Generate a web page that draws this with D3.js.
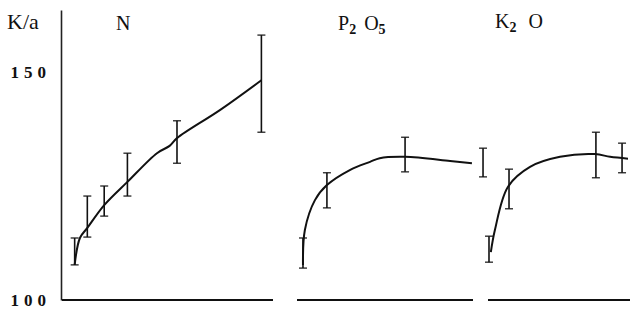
<!DOCTYPE html>
<html>
<head>
<meta charset="utf-8">
<script src="https://cdn.jsdelivr.net/npm/d3@7"></script>
<style>
  body { margin: 0; background: #fff; }
  text { font-family: "Liberation Serif", "DejaVu Serif", serif; fill: #111; }
</style>
</head>
<body>
<div id="chart"></div>
<script>
const WIDTH = 640;
const HEIGHT = 317;

// y ticks
const yTicks = [100, 150];

// N panel: curve and error bars (x = relative rate, 0..200)
const nCurveX = [12, 17, 24, 40, 62, 90, 102, 109, 150, 189];
const nCurveY = [107.7, 113.6, 115.8, 120.8, 125.9, 132.2, 133.8, 135.5, 141.7, 148.2];
const nBarX = [12, 24, 40, 62, 109, 189];
const nBarLo = [107.7, 113.8, 118.4, 122.8, 130.0, 136.8];
const nBarHi = [113.6, 122.8, 125.0, 132.2, 139.3, 158.1];

// P2O5 panel (x 0..100)
const pCurveX = [3.4, 4.5, 10.2, 17, 30, 41.5, 47, 61.4, 87, 99.4];
const pCurveY = [107.7, 115.4, 121.9, 125.2, 128.5, 130.3, 131.1, 131.4, 130.5, 130.0];
const pBarX = [3.4, 17, 61.4, 105.7];
const pBarLo = [107.0, 120.2, 128.1, 127.0];
const pBarHi = [113.6, 127.9, 135.7, 133.3];

// K2O panel (x 0..100)
const kCurveX = [2, 4.9, 14, 29.6, 50.7, 75.4, 86, 98.6];
const kCurveY = [110.5, 115.4, 124.8, 129.2, 131.4, 132.0, 131.4, 131.0];
const kBarX = [0.7, 14.8, 76, 94.4];
const kBarLo = [108.3, 120.0, 126.8, 127.9];
const kBarHi = [114.0, 128.7, 136.8, 134.4];

const svg = d3.select("#chart").append("svg")
    .attr("width", WIDTH)
    .attr("height", HEIGHT);

const y = d3.scaleLinear().domain([100, 163.6]).range([300, 10]);

const panels = [
    {name: "N", domain: [0, 200], range: [62, 273], cx: nCurveX, cy: nCurveY, bx: nBarX, lo: nBarLo, hi: nBarHi},
    {name: "P", domain: [0, 100], range: [297, 473], cx: pCurveX, cy: pCurveY, bx: pBarX, lo: pBarLo, hi: pBarHi},
    {name: "K", domain: [0, 100], range: [488, 630], cx: kCurveX, cy: kCurveY, bx: kBarX, lo: kBarLo, hi: kBarHi}
];

// y axis
const yAxis = svg.append("g")
    .attr("transform", "translate(61,0)")
    .call(d3.axisLeft(y).tickValues(yTicks).tickSize(0).tickSizeOuter(0).tickPadding(10));
yAxis.select(".domain").attr("stroke", "#222").attr("stroke-width", 1.6);
yAxis.selectAll("text")
    .style("font-family", "'Liberation Serif', 'DejaVu Serif', serif")
    .style("font-size", "17px")
    .style("font-weight", "bold")
    .style("letter-spacing", "5px")
    .attr("fill", "#111");

panels.forEach(p => {
    const x = d3.scaleLinear().domain(p.domain).range(p.range);
    const g = svg.append("g");

    // baseline
    g.append("line")
        .attr("x1", x(p.domain[0])).attr("x2", x(p.domain[1]))
        .attr("y1", y(100)).attr("y2", y(100))
        .attr("stroke", "#111").attr("stroke-width", 1.8);

    // curve
    const pts = p.cx.map((v, i) => [v, p.cy[i]]);
    const line = d3.line()
        .x(d => x(d[0])).y(d => y(d[1]))
        .curve(d3.curveCatmullRom.alpha(0.5));
    g.append("path")
        .datum(pts)
        .attr("d", line)
        .attr("fill", "none")
        .attr("stroke", "#111")
        .attr("stroke-width", 2);

    // error bars
    const bars = p.bx.map((v, i) => ({x: v, lo: p.lo[i], hi: p.hi[i]}));
    const eb = g.selectAll("g.eb").data(bars).enter().append("g").attr("class", "eb");
    eb.append("line")
        .attr("x1", d => x(d.x)).attr("x2", d => x(d.x))
        .attr("y1", d => y(d.lo)).attr("y2", d => y(d.hi))
        .attr("stroke", "#111").attr("stroke-width", 1.6);
    eb.append("line")
        .attr("x1", d => x(d.x) - 4).attr("x2", d => x(d.x) + 4)
        .attr("y1", d => y(d.lo)).attr("y2", d => y(d.lo))
        .attr("stroke", "#111").attr("stroke-width", 1.2);
    eb.append("line")
        .attr("x1", d => x(d.x) - 4).attr("x2", d => x(d.x) + 4)
        .attr("y1", d => y(d.hi)).attr("y2", d => y(d.hi))
        .attr("stroke", "#111").attr("stroke-width", 1.2);
});

// labels
svg.append("text").attr("x", 7).attr("y", 29).style("font-size", "22px").text("K/a");
svg.append("text").attr("x", 116).attr("y", 30).style("font-size", "20px").text("N");

const p2 = svg.append("text").attr("x", 338).attr("y", 30).style("font-size", "20px");
p2.append("tspan").text("P");
p2.append("tspan").attr("dy", 4).style("font-size", "14px").style("font-weight", "bold").text("2");
p2.append("tspan").attr("dx", 8).attr("dy", -4).text("O");
p2.append("tspan").attr("dy", 4).style("font-size", "14px").style("font-weight", "bold").text("5");

const k2 = svg.append("text").attr("x", 495).attr("y", 28).style("font-size", "20px");
k2.append("tspan").text("K");
k2.append("tspan").attr("dy", 4).style("font-size", "14px").style("font-weight", "bold").text("2");
k2.append("tspan").attr("dx", 12).attr("dy", -4).text("O");
</script>
</body>
</html>
